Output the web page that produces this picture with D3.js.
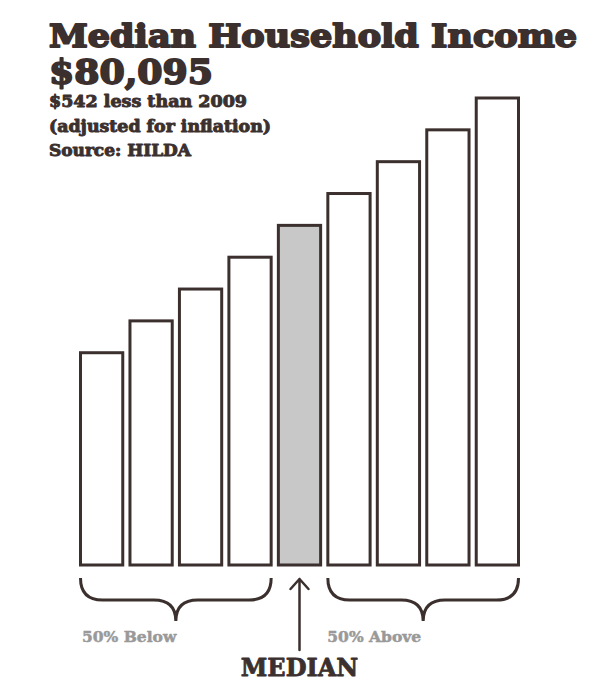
<!DOCTYPE html>
<html lang="en">
<head>
    <meta charset="UTF-8">
    <title>Median Household Income</title>
    <style>
        body { margin: 0; background: #fff; }
    </style>
</head>
<body>
    <svg width="600" height="700"></svg>
    <script src="https://d3js.org/d3.v7.min.js"></script>
    <script>
        // illustrative income bands, lowest to highest (relative heights)
        let bands = ["1", "2", "3", "4", "5", "6", "7", "8", "9"];
        let values = [40, 46, 52, 58, 64, 70, 76, 82, 88];
        let medianIndex = 4;

        let title = "Median Household Income";
        let headline = "$80,095";
        let notes = ["$542 less than 2009", "(adjusted for inflation)", "Source: HILDA"];
        let belowLabel = "50% Below";
        let aboveLabel = "50% Above";
        let medianLabel = "MEDIAN";

        let ink = "#3b302e";
        let svg = d3.select("svg");
        let slab = "'DejaVu Serif', serif";

        let x = d3.scaleBand()
            .domain(bands)
            .range([79, 520])
            .paddingInner(0.085);
        let y = d3.scaleLinear()
            .domain([0, d3.max(values)])
            .range([565, 98]);

        svg.selectAll("rect.bar")
            .data(values)
            .enter().append("rect")
            .attr("class", "bar")
            .attr("x", (d, i) => x(bands[i]) + 1.5)
            .attr("y", d => y(d))
            .attr("width", x.bandwidth() - 3)
            .attr("height", d => y(0) - y(d))
            .attr("fill", (d, i) => i === medianIndex ? "#c8c8c8" : "#fff")
            .attr("stroke", ink)
            .attr("stroke-width", 3);

        // heavy text: same-colour outline to thicken the strokes
        function heavy(sel, w) {
            return sel.attr("font-family", slab).attr("font-weight", "bold")
                .attr("fill", ink).attr("stroke", ink).attr("stroke-width", w)
                .attr("stroke-linejoin", "round");
        }

        svg.append("text")
            .attr("x", 49).attr("y", 47)
            .attr("font-size", 31)
            .attr("textLength", 528).attr("lengthAdjust", "spacingAndGlyphs")
            .call(heavy, 1.8)
            .text(title);
        svg.append("text")
            .attr("x", 49).attr("y", 84)
            .attr("font-size", 34)
            .attr("textLength", 164).attr("lengthAdjust", "spacingAndGlyphs")
            .call(heavy, 1.8)
            .text(headline);
        let noteWidths = [198, 222, 142];
        svg.selectAll("text.note")
            .data(notes)
            .enter().append("text")
            .attr("class", "note")
            .attr("x", 49)
            .attr("y", (d, i) => 107 + i * 24.5)
            .attr("font-size", 16)
            .attr("textLength", (d, i) => noteWidths[i]).attr("lengthAdjust", "spacingAndGlyphs")
            .call(heavy, 0.9)
            .text(d => d);

        // braces under the lower and upper halves
        function brace(x0, x1) {
            let top = 578, mid = 600, tip = 621, r = 22, m = (x0 + x1) / 2;
            return "M" + x0 + "," + top +
                " Q" + x0 + "," + mid + " " + (x0 + r) + "," + mid +
                " L" + (m - r) + "," + mid +
                " Q" + m + "," + mid + " " + m + "," + tip +
                " Q" + m + "," + mid + " " + (m + r) + "," + mid +
                " L" + (x1 - r) + "," + mid +
                " Q" + x1 + "," + mid + " " + x1 + "," + top;
        }
        let lo = bands.slice(0, medianIndex), hi = bands.slice(medianIndex + 1);
        svg.append("path")
            .attr("d", brace(x(lo[0]) + 1.5, x(lo[lo.length - 1]) + x.bandwidth() - 1.5))
            .attr("fill", "none").attr("stroke", ink).attr("stroke-width", 3);
        svg.append("path")
            .attr("d", brace(x(hi[0]) + 1.5, x(hi[hi.length - 1]) + x.bandwidth() - 1.5))
            .attr("fill", "none").attr("stroke", ink).attr("stroke-width", 3);

        // arrow to the median bar
        let cx = x(bands[medianIndex]) + x.bandwidth() / 2;
        svg.append("path")
            .attr("d", "M" + cx + ",650 L" + cx + ",579 M" + (cx - 9) + ",589 L" + cx + ",579 L" + (cx + 9) + ",589")
            .attr("fill", "none").attr("stroke", ink).attr("stroke-width", 2.5)
            .attr("stroke-linecap", "round").attr("stroke-linejoin", "round");

        svg.append("text")
            .attr("x", x(lo[0]) + 3).attr("y", 642)
            .attr("font-family", slab).attr("font-weight", "bold")
            .attr("font-size", 15.5).attr("fill", "#999")
            .attr("stroke", "#999").attr("stroke-width", 0.5)
            .text(belowLabel);
        svg.append("text")
            .attr("x", x(hi[0]) + 1).attr("y", 642)
            .attr("font-family", slab).attr("font-weight", "bold")
            .attr("font-size", 15.5).attr("fill", "#999")
            .attr("stroke", "#999").attr("stroke-width", 0.5)
            .text(aboveLabel);
        svg.append("text")
            .attr("x", cx).attr("y", 676)
            .attr("text-anchor", "middle")
            .attr("font-size", 24)
            .call(heavy, 0.8)
            .text(medianLabel);
    </script>
</body>
</html>
